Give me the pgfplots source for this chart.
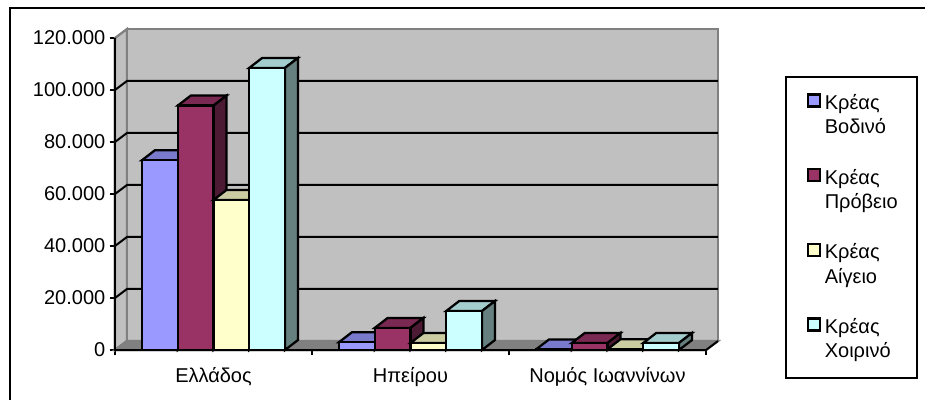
\documentclass[border=0pt]{standalone}
\usepackage{fontspec}
\setmainfont{Liberation Sans}
\usepackage{pgfplots}
\pgfplotsset{compat=1.18}
\definecolor{wall}{HTML}{C0C0C0}
\definecolor{edge}{HTML}{808080}
\definecolor{sA}{HTML}{9999FF}\definecolor{tA}{HTML}{7A7ACC}\definecolor{dA}{HTML}{4D4D80}
\definecolor{sB}{HTML}{993366}\definecolor{tB}{HTML}{7A2952}\definecolor{dB}{HTML}{4D1A33}
\definecolor{sC}{HTML}{FFFFCC}\definecolor{tC}{HTML}{CCCCA3}\definecolor{dC}{HTML}{808066}
\definecolor{sD}{HTML}{CCFFFF}\definecolor{tD}{HTML}{A3CCCC}\definecolor{dD}{HTML}{668080}
\def\lw{1.7pt}
% top and side face of a bar: left edge, value, top colour, side colour
\newcommand{\barfaces}[4]{%
  \pgfmathsetmacro\xa{#1}\pgfmathsetmacro\xb{#1+0.1815}%
  \pgfmathsetmacro\xc{#1+0.1815+0.066}\pgfmathsetmacro\xd{#1+0.066}%
  \edef\yt{\the\numexpr#2+3846\relax}%
  \addplot[forget plot,draw=black,line width=\lw,fill=#3,line join=miter] coordinates {(\xa,#2)(\xb,#2)(\xc,\yt)(\xd,\yt)} --cycle;
  \addplot[forget plot,draw=black,line width=\lw,fill=#4,line join=miter] coordinates {(\xb,0)(\xb,#2)(\xc,\yt)(\xc,3846)} --cycle;
}
\newcommand{\gridl}[1]{%
  \edef\yt{\the\numexpr#1+3462\relax}%
  \addplot[forget plot,black,line width=1.5pt] coordinates {(0,#1)(0.0609,\yt)(3.0609,\yt)};
}
\pgfplotsset{swatch/.style={legend image code/.code={\draw[##1,draw=black,line width=\lw] (0pt,-3.5pt) rectangle (9pt,5.5pt);\path (0pt,0pt) (9.5pt,0pt);}}}
\begin{document}
\begin{tikzpicture}[font=\fontsize{15}{18.4}\selectfont]
\path[use as bounding box] (-86.25pt,-37.5pt) rectangle (607.5pt,262.5pt);
\fill[white] (-86.25pt,-37.5pt) rectangle (607.5pt,262.5pt);
\draw[black,line width=1.5pt] (-78.75pt,-37.5pt) -- (-78.75pt,256.5pt) -- (607.5pt,256.5pt);
\draw[black,line width=\lw] (503.25pt,204.75pt) rectangle (601.5pt,-21pt);
\begin{axis}[
  scale only axis,width=443.25pt,height=234pt,
  xmin=0,xmax=3,ymin=0,ymax=120000,clip=false,
  axis x line*=bottom,axis y line*=left,
  axis line style={black,line width=1.5pt,-},
  tick align=outside,
  tick style={black,line width=1.5pt},
  major tick length=3.75pt,
  minor tick length=3.75pt,
  xtick={0.5,1.5,2.5},
  xticklabels={Ελλάδος,Ηπείρου,Νομός Ιωαννίνων},
  xticklabel style={yshift=-5.5pt},
  minor xtick={0,1,2,3},
  xtick style={draw=none},
  minor x tick style={draw=black,line width=1.5pt},
  ytick={0,20000,40000,60000,80000,100000,120000},
  scaled y ticks=false,
  yticklabel style={/pgf/number format/.cd,fixed,precision=0,1000 sep={.},assume math mode=true},
  legend style={at={(rel axis cs:1.1437,0.8654)},anchor=north west,draw=none,fill=none,
    inner xsep=12pt,inner ysep=7pt,row sep=37.6pt,
    font=\fontsize{15}{18.4}\selectfont,legend cell align=left},
]
\addplot[forget plot,draw=edge,line width=1.7pt,fill=wall] coordinates {(0,0)(0.0609,3462)(0.0609,123462)(0,120000)} --cycle;
\addplot[forget plot,draw=edge,line width=1.7pt,fill=wall] coordinates {(0.0609,3462)(3.0609,3462)(3.0609,123462)(0.0609,123462)} --cycle;
\addplot[forget plot,draw=edge,line width=1.7pt,fill=edge] coordinates {(0,0)(3,0)(3.0609,3462)(0.0609,3462)} --cycle;
\gridl{20000}\gridl{40000}\gridl{60000}\gridl{80000}\gridl{100000}
\addplot[forget plot,black,line width=1.5pt] coordinates {(0,120000)(0,0)(3,0)(3.0609,3462)};

\barfaces{0.137}{73000}{tA}{dA}\barfaces{1.137}{3000}{tA}{dA}\barfaces{2.137}{200}{tA}{dA}
\addplot[ybar,bar width=0.1815,bar shift=-0.2722,fill=sA,draw=black,line width=\lw,swatch] coordinates {(0.5,73000)(1.5,3000)(2.5,200)};
\addlegendentry{\begin{tabular}[t]{@{}l@{}}Κρέας\\Βοδινό\end{tabular}}

\barfaces{0.3185}{94000}{tB}{dB}\barfaces{1.3185}{8500}{tB}{dB}\barfaces{2.3185}{2700}{tB}{dB}
\addplot[ybar,bar width=0.1815,bar shift=-0.0907,fill=sB,draw=black,line width=\lw,swatch] coordinates {(0.5,94000)(1.5,8500)(2.5,2700)};
\addlegendentry{\begin{tabular}[t]{@{}l@{}}Κρέας\\Πρόβειο\end{tabular}}

\barfaces{0.5}{57700}{tC}{dC}\barfaces{1.5}{2700}{tC}{dC}\barfaces{2.5}{300}{tC}{dC}
\addplot[ybar,bar width=0.1815,bar shift=0.0907,fill=sC,draw=black,line width=\lw,swatch] coordinates {(0.5,57700)(1.5,2700)(2.5,300)};
\addlegendentry{\begin{tabular}[t]{@{}l@{}}Κρέας\\Αίγειο\end{tabular}}

\barfaces{0.6815}{108500}{tD}{dD}\barfaces{1.6815}{15000}{tD}{dD}\barfaces{2.6815}{2700}{tD}{dD}
\addplot[ybar,bar width=0.1815,bar shift=0.2722,fill=sD,draw=black,line width=\lw,swatch] coordinates {(0.5,108500)(1.5,15000)(2.5,2700)};
\addlegendentry{\begin{tabular}[t]{@{}l@{}}Κρέας\\Χοιρινό\end{tabular}}
\end{axis}
\end{tikzpicture}
\end{document}
